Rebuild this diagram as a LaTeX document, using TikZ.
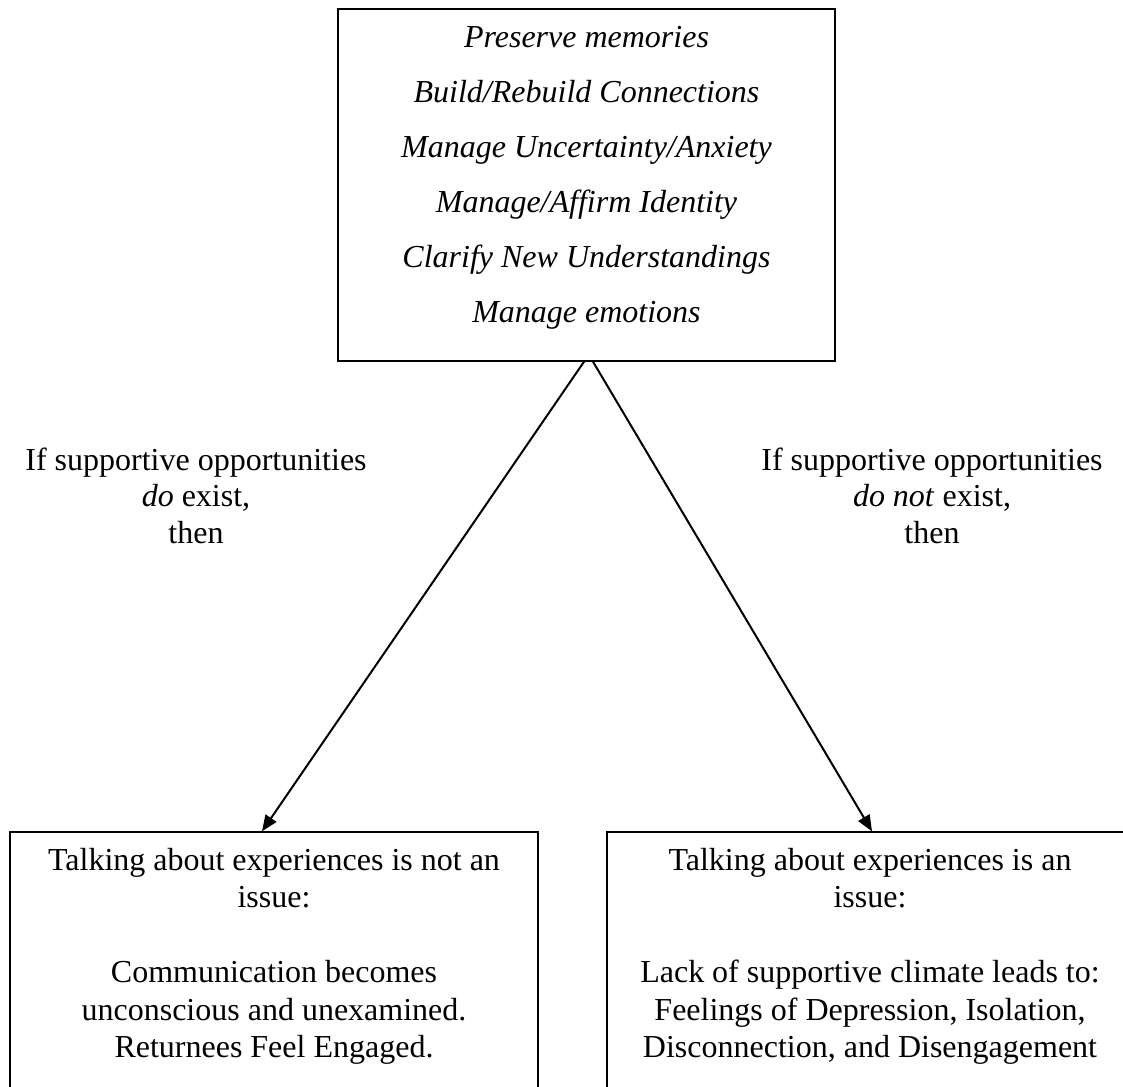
\documentclass[tikz,border=0pt]{standalone}
\usepackage{fontspec}
\setmainfont{Liberation Serif}
\usetikzlibrary{arrows.meta, positioning}
\newcommand{\lowrule}[1]{\rule[-#1]{0pt}{0pt}}

\begin{document}
\begin{tikzpicture}[x=0.5pt, y=-0.5pt,
		goalbox/.style={draw, line width=0.7pt, rectangle, inner sep=0pt, align=center,
			minimum width=248.5pt, minimum height=176pt,
			font=\itshape\fontsize{16}{27.5}\selectfont},
		outcomebox/.style={draw, line width=0.7pt, rectangle, inner sep=0pt, align=center,
			minimum height=129pt, font=\fontsize{16}{18.75}\selectfont},
		cond/.style={align=center, inner sep=0pt, font=\fontsize{16}{18.35}\selectfont},
		link/.style={-{Triangle[length=8pt, width=6.5pt]}, line width=1pt}]
	\useasboundingbox (0,0) rectangle (1123,1086);
	\clip (0,0) rectangle (1123,1086);

	\node[goalbox] (goals) at (586.5,185) {Preserve memories\\Build/Rebuild Connections\\
		Manage Uncertainty/Anxiety\\Manage/Affirm Identity\\
		Clarify New Understandings\\Manage emotions\lowrule{11pt}};

	\node[outcomebox, minimum width=264pt] (doBox) at (274,961)
		{Talking about experiences is not an\\issue:\\[18.75pt]
		Communication becomes\\unconscious and unexamined.\\
		Returnees Feel Engaged.\lowrule{8pt}};
	\node[outcomebox, minimum width=263pt] (notBox) at (870,961)
		{Talking about experiences is an\\issue:\\[18.75pt]
		Lack of supportive climate leads to:\\Feelings of Depression, Isolation,\\
		Disconnection, and Disengagement\lowrule{8pt}};

	\node[cond] (doCond) at (196,495.6) {If supportive opportunities\\\textit{do} exist,\\then};
	\node[cond] (notCond) at (932,495.6) {If supportive opportunities\\\textit{do not} exist,\\then};

	\draw[link] ([xshift=-1.25pt]goals.south) -- ([xshift=-6pt]doBox.north);
	\draw[link] ([xshift=3.25pt]goals.south) -- ([xshift=1pt]notBox.north);
\end{tikzpicture}
\end{document}
